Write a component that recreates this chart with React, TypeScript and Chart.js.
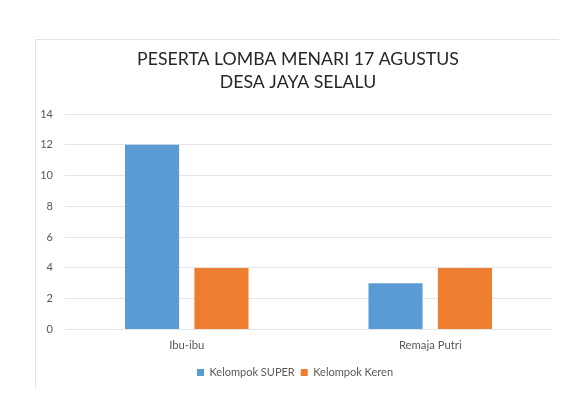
import React, { useEffect, useRef } from "react";
import { Chart, registerables } from "chart.js";

Chart.register(...registerables);

const categories = ["Ibu-ibu", "Remaja Putri"];
const seriesNames = ["Kelompok SUPER", "Kelompok Keren"];
const superValues = [12, 3];
const kerenValues = [4, 4];
const titleLines = ["PESERTA LOMBA MENARI 17 AGUSTUS", "DESA JAYA SELALU"];

const FONT = "Lato, 'Open Sans', sans-serif";

const framePlugin = {
  id: "frameAndTitle",
  beforeDraw(chart: any) {
    const ctx = chart.ctx;
    ctx.save();
    ctx.strokeStyle = "#e2e2e2";
    ctx.lineWidth = 1;
    ctx.beginPath();
    ctx.moveTo(35.5, 388);
    ctx.lineTo(35.5, 39.5);
    ctx.lineTo(559, 39.5);
    ctx.stroke();
    ctx.fillStyle = "#262626";
    ctx.font = `17.7px ${FONT}`;
    ctx.textAlign = "center";
    ctx.textBaseline = "alphabetic";
    ctx.fillText(titleLines[0], 298, 64.5);
    ctx.fillText(titleLines[1], 298, 88);
    ctx.restore();
  },
};

export default function App() {
  const ref = useRef<HTMLCanvasElement | null>(null);
  useEffect(() => {
    if (!ref.current) return;
    const chart = new Chart(ref.current, {
      type: "bar",
      data: {
        labels: categories,
        datasets: [
          {
            label: seriesNames[0],
            data: superValues,
            backgroundColor: "#5B9BD5",
            categoryPercentage: 0.57,
            barPercentage: 0.78,
          },
          {
            label: seriesNames[1],
            data: kerenValues,
            backgroundColor: "#ED7D31",
            categoryPercentage: 0.57,
            barPercentage: 0.78,
          },
        ],
      },
      options: {
        animation: false,
        responsive: false,
        devicePixelRatio: 1,
        layout: { padding: { left: 38, right: 30, top: 114, bottom: 22 } },
        scales: {
          x: {
            grid: { display: false, drawTicks: false },
            border: { display: false },
            ticks: { color: "#595959", font: { family: FONT, size: 11.3 }, padding: 9 },
          },
          y: {
            min: 0,
            max: 14,
            ticks: { stepSize: 2, color: "#595959", font: { family: FONT, size: 11 }, padding: 12 },
            grid: { color: "#e4e4e4", drawTicks: false },
            border: { display: false },
            afterFit(scale: any) {
              scale.width = 27;
            },
          },
        },
        plugins: {
          legend: {
            position: "bottom",
            labels: {
              boxWidth: 7,
              boxHeight: 7,
              color: "#595959",
              font: { family: FONT, size: 11 },
              padding: 6,
            },
          },
          tooltip: { enabled: false },
          title: { display: false },
        },
      },
      plugins: [framePlugin],
    });
    return () => chart.destroy();
  }, []);
  return (
    <div style={{ position: "fixed", left: 0, top: 0, width: 582, height: 410, background: "#fff" }}>
      <canvas ref={ref} width={582} height={410} style={{ display: "block", width: 582, height: 410 }} />
    </div>
  );
}
